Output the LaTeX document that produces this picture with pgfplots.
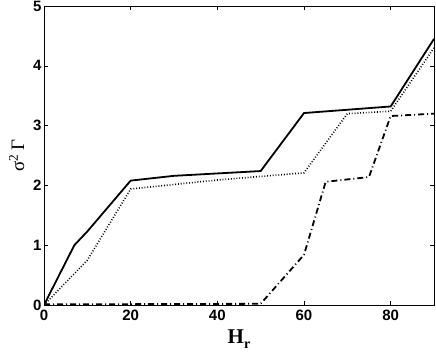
\documentclass[border=0pt]{standalone}
\usepackage{fontspec}
\setmainfont{Liberation Serif}
\newfontfamily\ticksans{Liberation Sans}
\usepackage{pgfplots}
\pgfplotsset{compat=1.18}

\begin{document}
\begin{tikzpicture}
\begin{axis}[
    scale only axis,
    width=390pt, height=299pt,
    xmin=0, xmax=90,
    ymin=0, ymax=5,
    xtick={0,20,40,60,80},
    ytick={0,1,2,3,4,5},
    tick align=inside,
    major tick length=4pt,
    axis line style={line width=0.6pt},
    tick style={line width=0.5pt, black},
    tick label style={font=\fontsize{15}{15}\ticksans\bfseries\selectfont},
    /pgf/number format/assume math mode=true,
    xticklabel style={yshift=-1pt},
    yticklabel style={xshift=1pt},
    xlabel={\fontsize{21}{21}\selectfont\bfseries H\raisebox{-0.45ex}{\fontsize{14}{14}\selectfont r}},
    ylabel={\fontsize{19}{19}\selectfont σ\textsuperscript{2}\,Γ},
    xlabel style={yshift=-3pt},
    ylabel style={yshift=2pt},
]
% solid
\addplot[black, line width=1.8pt] coordinates {
    (0,0) (7,1.0) (10,1.23) (20,2.08) (30,2.16) (40,2.2) (50,2.24)
    (60,3.21) (80,3.32) (90,4.45)
};
% dotted
\addplot[black, line width=1.6pt, dash pattern=on 0.9pt off 1.9pt] coordinates {
    (0,0) (10,0.75) (20,1.94) (40,2.09) (60,2.21) (70,3.2) (80,3.24) (90,4.3)
};
% dash-dot
\addplot[black, line width=1.8pt, dash pattern=on 6pt off 3pt on 1pt off 3pt] coordinates {
    (0,0.01) (50,0.02) (60,0.84) (65,2.06) (75,2.14) (80,3.16) (90,3.2)
};
\end{axis}
\pgfresetboundingbox
\path[use as bounding box] ([shift={(-44pt,-49pt)}]current axis.south west)
    rectangle ([shift={(2pt,6pt)}]current axis.north east);
\end{tikzpicture}
\end{document}
